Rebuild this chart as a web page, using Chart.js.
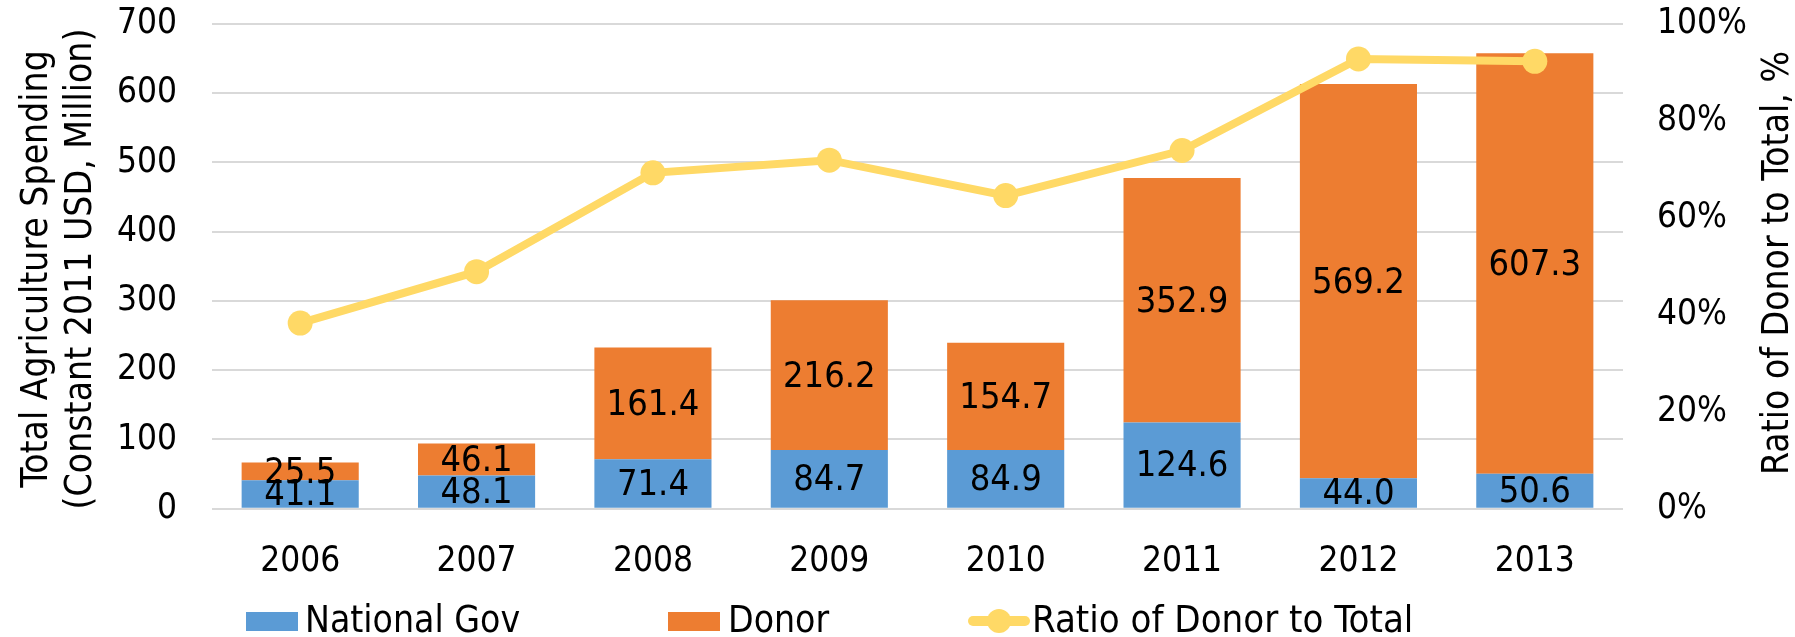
<!DOCTYPE html>
<html><head><meta charset="utf-8">
<script src="https://cdn.jsdelivr.net/npm/chart.js@4"></script>
<style>html,body{margin:0;padding:0;background:#fff}#wrap{width:1795px;height:637px}</style>
</head><body><div id="wrap"><canvas id="c" width="1795" height="637"></canvas></div>
<script>
const years = ['2006','2007','2008','2009','2010','2011','2012','2013'];
const nationalGov = [41.1, 48.1, 71.4, 84.7, 84.9, 124.6, 44.0, 50.6];
const donor = [25.5, 46.1, 161.4, 216.2, 154.7, 352.9, 569.2, 607.3];
const ratioPct = [38.3, 48.9, 69.3, 71.9, 64.6, 73.9, 92.8, 92.3];
const leftTicks = [0,100,200,300,400,500,600,700];
const rightTicks = [0,20,40,60,80,100];

const FONT = "'DejaVu Sans Condensed', 'DejaVu Sans', sans-serif";
const BLUE = '#5B9BD5', ORANGE = '#ED7D31', GOLD = '#FFD966';

const labelPlugin = {
  id: 'labels',
  afterDatasetsDraw(chart) {
    const ctx = chart.ctx;
    ctx.save();
    ctx.font = '36px ' + FONT;
    ctx.fillStyle = '#000';
    ctx.textAlign = 'center';
    ctx.textBaseline = 'middle';
    [1,2].forEach(di => {
      const meta = chart.getDatasetMeta(di);
      const vals = chart.data.datasets[di].data;
      meta.data.forEach((el, i) => {
        const y = (el.y + el.base) / 2;
        ctx.fillText(vals[i].toFixed(1), el.x, y + 2);
      });
    });
    ctx.restore();
  },
  afterDraw(chart) {
    const ctx = chart.ctx;
    ctx.save();
    ctx.fillStyle = '#000';
    ctx.font = '37px ' + FONT;
    ctx.textAlign = 'center';
    ctx.textBaseline = 'middle';
    ctx.save();
    ctx.translate(37, 269);
    ctx.rotate(-Math.PI/2);
    ctx.fillText('Total Agriculture Spending', 0, 0);
    ctx.restore();
    ctx.save();
    ctx.translate(81, 269);
    ctx.rotate(-Math.PI/2);
    ctx.fillText('(Constant 2011 USD, Million)', 0, 0);
    ctx.restore();
    ctx.save();
    ctx.translate(1778, 263);
    ctx.rotate(-Math.PI/2);
    ctx.fillText('Ratio of Donor to Total, %', 0, 0);
    ctx.restore();
    const ly = 621;
    ctx.textAlign = 'left';
    ctx.fillStyle = BLUE; ctx.fillRect(246, 612, 52, 19);
    ctx.fillStyle = ORANGE; ctx.fillRect(668, 612, 52, 19);
    ctx.fillStyle = '#000';
    ctx.fillText(chart.data.datasets[1].label, 305, ly + 1);
    ctx.fillText(chart.data.datasets[2].label, 728, ly + 1);
    ctx.font = '38px ' + FONT;
    ctx.strokeStyle = GOLD; ctx.lineWidth = 10; ctx.lineCap = 'round';
    ctx.beginPath(); ctx.moveTo(973, ly); ctx.lineTo(1025, ly); ctx.stroke();
    ctx.fillStyle = GOLD; ctx.beginPath(); ctx.arc(999, ly, 12, 0, Math.PI*2); ctx.fill();
    ctx.fillStyle = '#000';
    ctx.fillText(chart.data.datasets[0].label, 1032, ly + 1);
    ctx.restore();
  }
};

const noPad = s => { s.paddingTop = 0; s.paddingBottom = 0; };

new Chart(document.getElementById('c'), {
  data: {
    labels: years,
    datasets: [
      { type: 'line', label: 'Ratio of Donor to Total', data: ratioPct, yAxisID: 'y1',
        borderColor: GOLD, backgroundColor: GOLD, borderWidth: 8, pointRadius: 12.5,
        pointBackgroundColor: GOLD, pointBorderWidth: 0, pointHoverRadius: 12.5, tension: 0, order: 0 },
      { type: 'bar', label: 'National Gov', data: nationalGov, backgroundColor: BLUE, yAxisID: 'y',
        stack: 's', barPercentage: 0.664, categoryPercentage: 1, order: 1 },
      { type: 'bar', label: 'Donor', data: donor, backgroundColor: ORANGE, yAxisID: 'y',
        stack: 's', barPercentage: 0.664, categoryPercentage: 1, order: 1 }
    ]
  },
  options: {
    responsive: false, animation: false, devicePixelRatio: 1,
    layout: { padding: { top: 24, left: 0, right: 0, bottom: 0 } },
    plugins: { legend: { display: false }, tooltip: { enabled: false } },
    scales: {
      x: { stacked: true, offset: true,
        grid: { display: false }, border: { display: false },
        ticks: { font: { family: FONT, size: 35 }, color: '#000', padding: 24, maxRotation: 0 },
        afterFit: s => { s.height = 128.3; s.paddingLeft = 0; s.paddingRight = 0; } },
      y: { stacked: true, position: 'left', min: 0, max: 700,
        afterBuildTicks: s => { s.ticks = leftTicks.map(v => ({ value: v })); },
        grid: { color: '#d9d9d9', lineWidth: 2, drawTicks: false }, border: { display: false },
        ticks: { font: { family: FONT, size: 35 }, color: '#000', padding: 35 },
        afterFit: s => { s.width = 212; noPad(s); } },
      y1: { position: 'right', min: 0, max: 100,
        afterBuildTicks: s => { s.ticks = rightTicks.map(v => ({ value: v })); },
        grid: { display: false, drawTicks: false }, border: { display: false },
        ticks: { font: { family: FONT, size: 35 }, color: '#000', padding: 34, callback: v => v + '%' },
        afterFit: s => { s.width = 172; noPad(s); } }
    }
  },
  plugins: [labelPlugin]
});
</script></body></html>
